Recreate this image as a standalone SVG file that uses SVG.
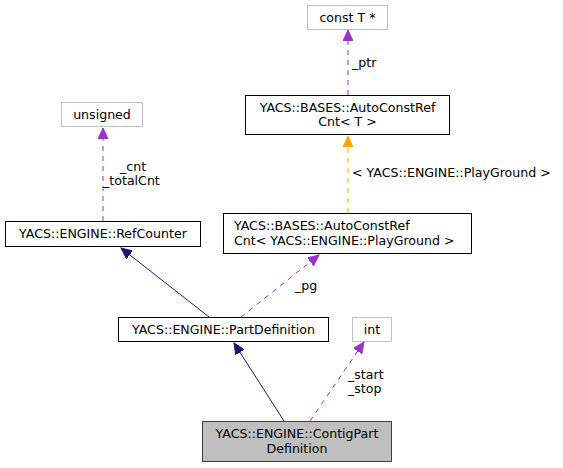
<svg xmlns="http://www.w3.org/2000/svg" width="563" height="468" viewBox="0 0 563 468">
<defs>
<style>
text{font-family:"DejaVu Sans","Liberation Sans",sans-serif;font-size:12.6px;fill:#000}
.n{fill:#fff;stroke:#000;stroke-width:1}
.g{fill:#fff;stroke:#bfbfbf;stroke-width:1}
.h{fill:#bfbfbf;stroke:#404040;stroke-width:1}
.inh{stroke:#191970;fill:none;stroke-width:1}
.use{stroke:#9a32cd;fill:none;stroke-width:1;stroke-dasharray:5,5}
.tpl{stroke:#ffa500;fill:none;stroke-width:1;stroke-dasharray:5,5}
</style>
<marker id="aN" markerWidth="12" markerHeight="10" refX="11" refY="5" orient="auto" markerUnits="userSpaceOnUse"><path d="M0,0 L11,5 L0,10 Z" fill="#191970" stroke="#191970"/></marker>
<marker id="aP" markerWidth="12" markerHeight="10" refX="11" refY="5" orient="auto" markerUnits="userSpaceOnUse"><path d="M0,0 L11,5 L0,10 Z" fill="#9a32cd" stroke="#9a32cd"/></marker>
<marker id="aO" markerWidth="12" markerHeight="10" refX="11" refY="5" orient="auto" markerUnits="userSpaceOnUse"><path d="M0,0 L11,5 L0,10 Z" fill="#ffa500" stroke="#ffa500"/></marker>
</defs>
<rect width="563" height="468" fill="#fff"/>
<g id="connectors">
<line class="use" x1="348" y1="95" x2="348" y2="30" marker-end="url(#aP)"/>
<text x="352" y="67">_ptr</text>
<line class="tpl" x1="348" y1="213" x2="348" y2="136" marker-end="url(#aO)"/>
<text x="352" y="177">&lt; YACS::ENGINE::PlayGround &gt;</text>
<line class="use" x1="103" y1="221" x2="103" y2="128" marker-end="url(#aP)"/>
<text x="120" y="171">_cnt</text>
<text x="103" y="185">_totalCnt</text>
<line class="inh" x1="209" y1="317" x2="121" y2="248" marker-end="url(#aN)"/>
<line class="use" x1="241" y1="317" x2="319" y2="255" marker-end="url(#aP)"/>
<text x="295" y="290">_pg</text>
<line class="inh" x1="284" y1="421" x2="234" y2="343" marker-end="url(#aN)"/>
<line class="use" x1="310" y1="421" x2="364" y2="342" marker-end="url(#aP)"/>
<text x="348" y="379">_start</text>
<text x="348" y="393">_stop</text>
</g>
<g id="constT"><rect class="g" x="307.5" y="5.5" width="80" height="24"/><text x="347.5" y="22" text-anchor="middle">const T *</text></g>
<g id="autoT"><rect class="n" x="245.5" y="95.5" width="204" height="39"/><text x="347.5" y="112" text-anchor="middle">YACS::BASES::AutoConstRef</text><text x="347.5" y="126" text-anchor="middle">Cnt&lt; T &gt;</text></g>
<g id="unsigned"><rect class="g" x="61.5" y="102.5" width="81" height="24"/><text x="102" y="119" text-anchor="middle">unsigned</text></g>
<g id="refCounter"><rect class="n" x="5.5" y="221.5" width="195" height="25"/><text x="103" y="238" text-anchor="middle">YACS::ENGINE::RefCounter</text></g>
<g id="autoPG"><rect class="n" x="223.5" y="213.5" width="248" height="40"/><text x="234" y="230">YACS::BASES::AutoConstRef</text><text x="234" y="245">Cnt&lt; YACS::ENGINE::PlayGround &gt;</text></g>
<g id="partDef"><rect class="n" x="118.5" y="317.5" width="210" height="24"/><text x="223.5" y="334" text-anchor="middle">YACS::ENGINE::PartDefinition</text></g>
<g id="int"><rect class="g" x="352.5" y="317.5" width="39" height="24"/><text x="372" y="334" text-anchor="middle">int</text></g>
<g id="contig"><rect class="h" x="202.5" y="421.5" width="189" height="40"/><text x="297" y="438" text-anchor="middle">YACS::ENGINE::ContigPart</text><text x="297" y="453" text-anchor="middle">Definition</text></g>
</svg>
